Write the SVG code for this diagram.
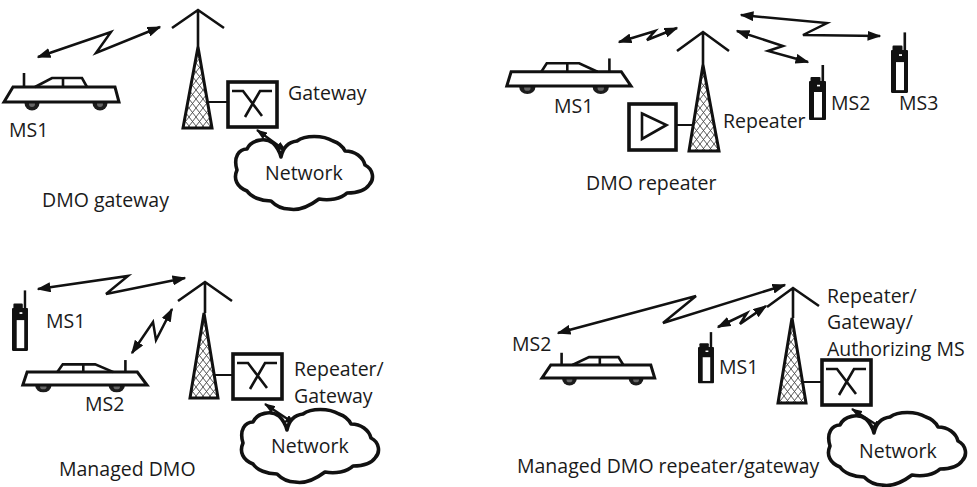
<svg xmlns="http://www.w3.org/2000/svg" xmlns:xlink="http://www.w3.org/1999/xlink" width="977" height="487" viewBox="0 0 977 487">
  <style>
    text { font-family: "Open Sans", "Noto Sans", "Liberation Sans", sans-serif; font-size: 19.5px; fill: #1a1a1a; }
    .link { fill: none; stroke: #111; stroke-width: 2.5; stroke-linejoin: miter; }
    .radio { marker-start: url(#ah); marker-end: url(#ah); }
    .wire { marker-start: url(#ahs); marker-end: url(#ahs); stroke-width: 2.2; }
    .feed { fill: none; stroke: #111; stroke-width: 2; }
    .mast { fill: none; stroke: #111; stroke-width: 2.6; }
    .lattice { fill: url(#hatch); stroke: #111; stroke-width: 3; stroke-linejoin: miter; }
    .box { fill: #fff; stroke: #111; stroke-width: 3.6; }
    .glyph { fill: none; stroke: #111; stroke-width: 2.6; }
    .body { fill: #fff; stroke: #111; stroke-width: 3; stroke-linejoin: miter; vector-effect: non-scaling-stroke; }
    .trim { fill: none; stroke: #111; stroke-width: 2.6; vector-effect: non-scaling-stroke; }
    .cloud { fill: #fff; stroke: #111; stroke-width: 3.6; stroke-linejoin: round; }
  </style>
  <defs>
    <marker id="ah" viewBox="0 0 14 10" refX="12.5" refY="5" markerWidth="14" markerHeight="10" markerUnits="userSpaceOnUse" orient="auto-start-reverse">
      <path d="M0,0 L14,5 L0,10 Z" fill="#111"/>
    </marker>
    <marker id="ahs" viewBox="0 0 11 8" refX="10" refY="4" markerWidth="11" markerHeight="8" markerUnits="userSpaceOnUse" orient="auto-start-reverse">
      <path d="M0,0 L11,4 L0,8 Z" fill="#111"/>
    </marker>
    <pattern id="hatch" width="7" height="9" patternUnits="userSpaceOnUse">
      <rect width="7" height="9" fill="#fff"/>
      <path d="M0,0 L7,9 M7,0 L0,9" stroke="#444" stroke-width="0.9"/>
    </pattern>
    <!-- car, antenna at the rear-left; origin = bottom-left of body -->
    <g id="car">
      <circle cx="28" cy="1" r="7.5" fill="#1c1c1c"/>
      <circle cx="96" cy="1" r="7.5" fill="#1c1c1c"/>
      <circle cx="28" cy="2" r="3" fill="#666"/>
      <circle cx="96" cy="2" r="3" fill="#666"/>
      <polygon class="body" points="9,-15 111,-15 115,0 0,0"/>
      <polyline class="trim" points="31,-15 48,-24 78,-24 83,-15"/>
      <line class="trim" x1="59" y1="-24" x2="59" y2="-15"/>
      <line class="trim" x1="20" y1="-29" x2="20" y2="-15"/>
    </g>
    <!-- hand-held radio; origin = top-left of body -->
    <g id="handset">
      <rect x="12.5" y="-16" width="2.6" height="17" fill="#111"/>
      <rect x="1.5" y="-4" width="10" height="6" rx="1" fill="#111"/>
      <rect x="0" y="0" width="17" height="39" rx="1" fill="#111"/>
      <rect x="5" y="11" width="8" height="25.5" fill="#fff"/>
      <rect x="8" y="3.8" width="3" height="1.6" fill="#fff"/>
    </g>
    <!-- network cloud, 137 x 72 -->
    <path id="cloudShape" class="cloud" d="M2,33 C-2,20 4,12 12,12 C16,3 30,0 38,6 C42,10 45,16 46,20 C48,10 54,5 62,4 C70,-2 88,-2 98,4 C104,6 108,10 110,14 C120,14 128,20 130,28 C138,32 140,42 134,48 C130,54 120,56 112,56 C106,62 94,64 84,62 C76,68 64,74 54,72 C46,72 40,68 36,64 C26,64 16,60 12,54 C2,50 -2,42 2,33 Z"/>
    <!-- crossover gateway box, 49 x 45 -->
    <g id="gatewayBox">
      <rect class="box" x="0" y="0" width="49" height="45"/>
      <path class="glyph" d="M4,9 H15 L34,34 M44,9 H32 L17,35"/>
    </g>
  </defs>

  <!-- links between stations, masts and equipment -->
  <g id="connectors">
    <polyline class="link radio" points="38,57 111,32 96,53 160,27"/>
    <line class="link wire" x1="257" y1="130" x2="286" y2="151"/>
    <line class="feed" x1="207" y1="102" x2="228" y2="102"/>

    <polyline class="link radio" points="619,42 655,31 647,40 677,28"/>
    <polyline class="link radio" points="741,15 827,23 803,35 880,36"/>
    <polyline class="link radio" points="737,31 783,46 768,51 808,62"/>
    <line class="feed" x1="676" y1="125" x2="694" y2="125"/>

    <polyline class="link radio" points="38,289 128,276 106,294 185,278"/>
    <polyline class="link radio" points="132,353 153,322 156,340 172,309"/>
    <line class="link wire" x1="265" y1="404" x2="295" y2="424"/>
    <line class="feed" x1="214" y1="375" x2="233" y2="375"/>

    <polyline class="link radio" points="558,333 696,296 663,323 785,285"/>
    <polyline class="link radio" points="718,327 747,313 740,324 766,306"/>
    <line class="link wire" x1="852" y1="409" x2="883" y2="429"/>
    <line class="feed" x1="802" y1="382" x2="822" y2="382"/>
  </g>

  <!-- DMO gateway -->
  <g id="q1-car">
    <use href="#car" transform="translate(4,102)"/>
    <text x="9" y="137">MS1</text>
  </g>
  <g id="q1-tower">
    <path class="mast" d="M172,28 L198,10 L224,28 M198,10 V47"/>
    <polygon class="lattice" points="198,47 212,128 183,128"/>
  </g>
  <g id="q1-gateway">
    <use href="#gatewayBox" transform="translate(228,82)"/>
    <text x="288" y="100">Gateway</text>
  </g>
  <g id="q1-network">
    <use href="#cloudShape" transform="translate(235,137)"/>
    <text x="265" y="180">Network</text>
  </g>
  <text id="q1-title" x="42" y="207">DMO gateway</text>

  <!-- DMO repeater -->
  <g id="q2-car">
    <use href="#car" transform="translate(631,86) scale(-1.08,0.95)"/>
    <text x="554" y="113">MS1</text>
  </g>
  <g id="q2-tower">
    <path class="mast" d="M677,51 L703,32 L729,51 M703,32 V65"/>
    <polygon class="lattice" points="703,65 719,151 689,151"/>
  </g>
  <g id="q2-repeater">
    <rect class="box" x="629" y="104" width="47" height="46"/>
    <polygon class="glyph" points="642,113.5 666.5,125 642,139"/>
    <text x="723" y="128">Repeater</text>
  </g>
  <g id="q2-ms2">
    <use href="#handset" transform="translate(809,81)"/>
    <text x="831" y="110">MS2</text>
  </g>
  <g id="q2-ms3">
    <use href="#handset" transform="translate(891,50) scale(1,1.1)"/>
    <text x="899" y="110">MS3</text>
  </g>
  <text id="q2-title" x="586" y="190">DMO repeater</text>

  <!-- Managed DMO -->
  <g id="q3-ms1">
    <use href="#handset" transform="translate(12,308) scale(0.94,1.1)"/>
    <text x="46" y="328">MS1</text>
  </g>
  <g id="q3-car">
    <use href="#car" transform="translate(147,385) scale(-1.08,0.86)"/>
    <text x="85" y="411">MS2</text>
  </g>
  <g id="q3-tower">
    <path class="mast" d="M178,301 L205,282 L232,301 M205,282 V313"/>
    <polygon class="lattice" points="204,313 218,398 190,398"/>
  </g>
  <g id="q3-gateway">
    <use href="#gatewayBox" transform="translate(233,354)"/>
    <text x="294" y="375.5">Repeater/</text>
    <text x="294" y="402.5">Gateway</text>
  </g>
  <g id="q3-network">
    <use href="#cloudShape" transform="translate(241,410)"/>
    <text x="271" y="453">Network</text>
  </g>
  <text id="q3-title" x="59" y="476">Managed DMO</text>

  <!-- Managed DMO repeater/gateway -->
  <g id="q4-car">
    <use href="#car" transform="translate(542,378) scale(0.98,0.87)"/>
    <text x="512" y="351">MS2</text>
  </g>
  <g id="q4-ms1">
    <use href="#handset" transform="translate(698,347) scale(0.94,0.93)"/>
    <text x="719" y="374">MS1</text>
  </g>
  <g id="q4-tower">
    <path class="mast" d="M767,307 L793,288 L819,306 M793,288 V318"/>
    <polygon class="lattice" points="792,318 806,403 778,403"/>
  </g>
  <g id="q4-gateway">
    <use href="#gatewayBox" transform="translate(822,360)"/>
    <text x="827" y="302.5">Repeater/</text>
    <text x="827" y="329.2">Gateway/</text>
    <text x="827" y="355.9">Authorizing MS</text>
  </g>
  <g id="q4-network">
    <use href="#cloudShape" transform="translate(828,413)"/>
    <text x="859" y="458">Network</text>
  </g>
  <text id="q4-title" x="517" y="473">Managed DMO repeater/gateway</text>
</svg>
